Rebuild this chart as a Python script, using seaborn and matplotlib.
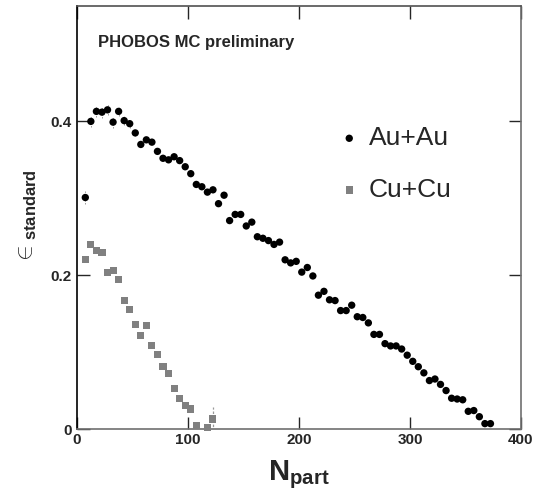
import matplotlib
matplotlib.use("Agg")
import matplotlib.pyplot as plt
import seaborn as sns
import pandas as pd

# Au+Au (black circles)
au_npart = [7.5, 12.5, 17.5, 22.5, 27.5, 32.5, 37.5, 42.5, 47.5, 52.5,
            57.5, 62.5, 67.5, 72.5, 77.5, 82.5, 87.5, 92.5, 97.5, 102.5,
            107.5, 112.5, 117.5, 122.5, 127.5, 132.5, 137.5, 142.5, 147.5, 152.5,
            157.5, 162.5, 167.5, 172.5, 177.5, 182.5, 187.5, 192.5, 197.5, 202.5,
            207.5, 212.5, 217.5, 222.5, 227.5, 232.5, 237.5, 242.5, 247.5, 252.5,
            257.5, 262.5, 267.5, 272.5, 277.5, 282.5, 287.5, 292.5, 297.5, 302.5,
            307.5, 312.5, 317.5, 322.5, 327.5, 332.5, 337.5, 342.5, 347.5, 352.5,
            357.5, 362.5, 367.5, 372.5]
au_eps = [0.301, 0.400, 0.413, 0.412, 0.415, 0.399, 0.413, 0.401, 0.397, 0.385,
          0.370, 0.376, 0.373, 0.361, 0.352, 0.350, 0.354, 0.349, 0.341, 0.332,
          0.318, 0.315, 0.308, 0.311, 0.293, 0.304, 0.271, 0.279, 0.279, 0.264,
          0.269, 0.250, 0.248, 0.245, 0.240, 0.243, 0.220, 0.216, 0.218, 0.204,
          0.210, 0.199, 0.174, 0.179, 0.168, 0.167, 0.154, 0.154, 0.161, 0.146,
          0.145, 0.138, 0.123, 0.123, 0.111, 0.108, 0.108, 0.104, 0.096, 0.088,
          0.081, 0.073, 0.063, 0.065, 0.058, 0.050, 0.040, 0.039, 0.038, 0.023,
          0.024, 0.016, 0.007, 0.007]
au_err = [0.008, 0.007, 0.007, 0.007, 0.007, 0.007, 0.006, 0.006, 0.005, 0.004] + [0.0] * 64

# Cu+Cu (grey squares)
cu_npart = [7.5, 12.5, 17.5, 22.5, 27.5, 32.5, 37.5, 42.5, 47.5, 52.5,
            57.5, 62.5, 67.5, 72.5, 77.5, 82.5, 87.5, 92.5, 97.5, 102.5,
            107.5, 117.5, 122.5]
cu_eps = [0.220, 0.240, 0.232, 0.229, 0.204, 0.206, 0.194, 0.167, 0.155, 0.136,
          0.122, 0.134, 0.109, 0.097, 0.081, 0.072, 0.053, 0.040, 0.030, 0.026,
          0.005, 0.002, 0.013]
cu_err = [0.0] * 21 + [0.003, 0.015]

xticks = [0, 100, 200, 300, 400]
yticks = [0, 0.2, 0.4]

sns.set_style("ticks")
plt.rcParams['font.family'] = ['Liberation Sans', 'DejaVu Sans']
plt.rcParams['mathtext.fontset'] = 'custom'
plt.rcParams['mathtext.rm'] = 'Liberation Sans'
plt.rcParams['mathtext.bf'] = 'Liberation Sans:bold'

au = pd.DataFrame({'Npart': au_npart, 'eps': au_eps, 'err': au_err})
cu = pd.DataFrame({'Npart': cu_npart, 'eps': cu_eps, 'err': cu_err})

fig = plt.figure(figsize=(5.41, 4.93), dpi=100)
ax = fig.add_axes([0.1423, 0.1298, 0.8207, 0.858])

e1 = ax.errorbar(au['Npart'], au['eps'], yerr=au['err'], fmt='none',
                 ecolor='#999999', elinewidth=0.7)
e1[2][0].set_linestyle((0, (1.5, 1.5)))
e2 = ax.errorbar(cu['Npart'], cu['eps'], yerr=cu['err'], fmt='none',
                 ecolor='#999999', elinewidth=0.9)
e2[2][0].set_linestyle((0, (2, 1.5)))

sns.scatterplot(data=au, x='Npart', y='eps', ax=ax, marker='o', s=28,
                color='black', edgecolor='none', label='Au+Au', zorder=3)
sns.scatterplot(data=cu, x='Npart', y='eps', ax=ax, marker='s', s=26,
                color='#808080', edgecolor='none', label='Cu+Cu', zorder=3,
                clip_on=False)

ax.set_xlim(0, 400)
ax.set_ylim(0, 0.55)
ax.set_xticks(xticks)
ax.set_xticklabels(['0', '100', '200', '300', '400'])
ax.set_yticks(yticks)
ax.set_yticklabels(['0', '0.2', '0.4'])
ax.tick_params(direction='in', length=9, width=1, top=True, right=True,
               labelsize=11, pad=3)
for lab in ax.get_xticklabels() + ax.get_yticklabels():
    lab.set_fontweight('bold')
ax.tick_params(axis='y', pad=4)

ax.spines['left'].set_color('black')
ax.spines['bottom'].set_color('#707070')
ax.spines['top'].set_color('#505050')
ax.spines['right'].set_color('#707070')
for s in ax.spines.values():
    s.set_linewidth(1.2)

ax.set_xlabel(r'$\mathbf{N}_{\mathbf{part}}$', fontsize=21, labelpad=8)
ax.set_ylabel(r'$\in_{\mathbf{standard}}$', fontsize=17, labelpad=8)

ax.text(0.047, 0.913, 'PHOBOS MC preliminary', transform=ax.transAxes,
        fontsize=12, fontweight='bold', va='center', ha='left')

leg = ax.legend(loc='upper left', bbox_to_anchor=(0.53, 0.772), frameon=False,
                fontsize=19, labelspacing=1.05, handletextpad=0.25,
                handlelength=1.0, markerscale=1.0)

fig.savefig('out.png', dpi=100)
